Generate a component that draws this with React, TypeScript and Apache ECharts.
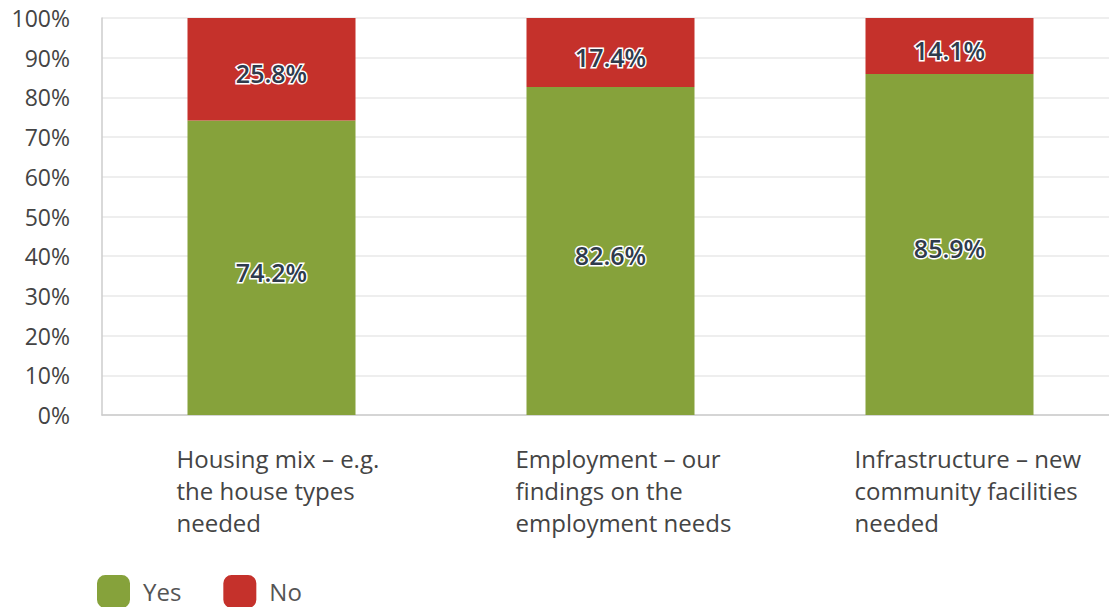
import React, { useEffect, useRef } from "react";
import * as echarts from "echarts";

const categories = [
  ["Housing mix – e.g.", "the house types", "needed"],
  ["Employment – our", "findings on the", "employment needs"],
  ["Infrastructure – new", "community facilities", "needed"],
];
const yesValues = [74.2, 82.6, 85.9];
const noValues = [25.8, 17.4, 14.1];
const yTicks = [0, 10, 20, 30, 40, 50, 60, 70, 80, 90, 100];

const FONT = "'Open Sans', 'Noto Sans', sans-serif";

export default function App() {
  const ref = useRef<HTMLDivElement>(null);
  useEffect(() => {
    if (!ref.current) return;
    const chart = echarts.init(ref.current, null, { renderer: "svg" });
    const labelStyle = {
      show: true,
      position: "inside",
      offset: [0, 4],
      formatter: (p: any) => p.value.toFixed(1) + "%",
      color: "#2f3b4c",
      fontSize: 25,
      fontWeight: 600,
      fontFamily: FONT,
      textBorderColor: "#ffffff",
      textBorderWidth: 3,
    };
    chart.setOption({
      animation: false,
      backgroundColor: "#ffffff",
      grid: { left: 102, top: 18, bottom: 192, right: 1, containLabel: false, outerBoundsMode: "none" },
      legend: {
        left: 92,
        top: 570,
        itemWidth: 33,
        itemHeight: 33,
        itemGap: 42,
        icon: "roundRect",
        textStyle: { fontSize: 24, color: "#555", fontFamily: FONT, padding: [0, 0, 0, 8] },
        data: ["Yes", "No"],
      },
      xAxis: {
        type: "category",
        data: categories.map((c) => c.join("\n")),
        axisLine: { show: true, lineStyle: { color: "#cccccc", width: 1.5 } },
        axisTick: { show: false },
        axisLabel: {
          margin: 27,
          align: "center",
          formatter: (v: string) => v.split("\n").map((l) => "{t|" + l + "}").join("\n"),
          rich: {
            t: {
              width: 190,
              align: "left",
              fontSize: 24,
              lineHeight: 32,
              color: "#444",
              fontFamily: FONT,
            },
          },
        },
      },
      yAxis: {
        type: "value",
        min: yTicks[0],
        max: yTicks[yTicks.length - 1],
        interval: 10,
        axisLine: { show: true, lineStyle: { color: "#cccccc", width: 1.5 } },
        axisTick: { show: false },
        splitLine: { lineStyle: { color: "#e8e8e8", width: 1.5 } },
        axisLabel: {
          formatter: "{value}%",
          margin: 32,
          fontSize: 23,
          color: "#444",
          fontFamily: FONT,
          padding: [5, 0, 0, 0],
        },
      },
      series: [
        {
          name: "Yes",
          type: "bar",
          stack: "total",
          data: yesValues,
          barWidth: 168,
          itemStyle: { color: "#86a23b" },
          label: labelStyle,
        },
        {
          name: "No",
          type: "bar",
          stack: "total",
          data: noValues,
          barWidth: 168,
          itemStyle: { color: "#c5312b" },
          label: labelStyle,
        },
      ],
    });
    return () => chart.dispose();
  }, []);
  return (
    <div
      ref={ref}
      style={{ position: "fixed", left: 0, top: 0, width: 1120, height: 607 }}
    />
  );
}
